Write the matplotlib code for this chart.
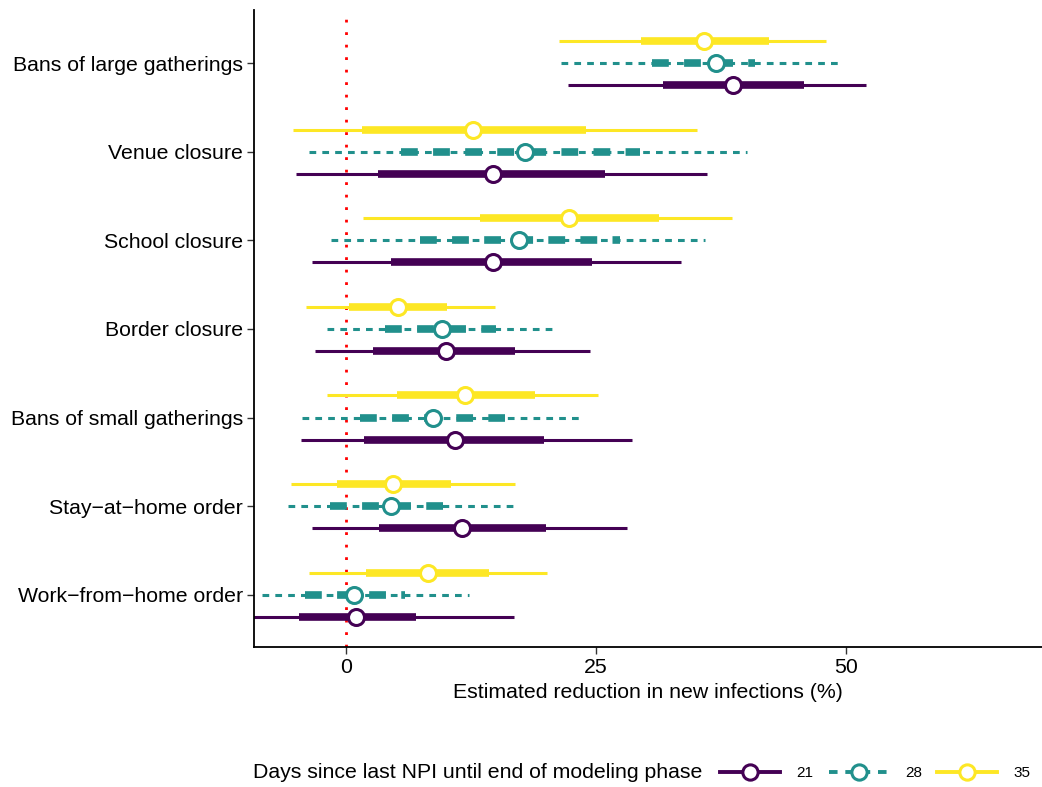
import numpy as np
import matplotlib.pyplot as plt
from matplotlib.lines import Line2D

plt.rcParams['font.family'] = ['Liberation Sans', 'DejaVu Sans']

# Categories, top to bottom
categories = [
    "Bans of large gatherings",
    "Venue closure",
    "School closure",
    "Border closure",
    "Bans of small gatherings",
    "Stay\u2212at\u2212home order",
    "Work\u2212from\u2212home order",
]
groups = ["21", "28", "35"]

# median estimates per group (21, 28, 35 days)
median_21 = [38.7, 14.7, 14.7, 10.0, 10.9, 11.6, 1.0]
median_28 = [37.0, 17.9, 17.3, 9.6, 8.7, 4.5, 0.8]
median_35 = [35.8, 12.7, 22.3, 5.2, 11.9, 4.7, 8.2]

# inner (thick) intervals
inner_lo_21 = [31.7, 3.2, 4.5, 2.7, 1.8, 3.3, -4.7]
inner_hi_21 = [45.8, 25.9, 24.6, 16.9, 19.8, 20.0, 7.0]
inner_lo_28 = [30.6, 5.5, 7.4, 3.9, 1.4, -1.6, -4.1]
inner_hi_28 = [40.9, 29.4, 27.4, 15.0, 15.9, 9.7, 5.9]
inner_lo_35 = [29.5, 1.6, 13.4, 0.3, 5.1, -0.9, 2.0]
inner_hi_35 = [42.3, 24.0, 31.3, 10.1, 18.9, 10.5, 14.3]

# outer (thin) intervals
outer_lo_21 = [22.2, -5.0, -3.4, -3.1, -4.5, -3.4, -10.5]
outer_hi_21 = [52.0, 36.1, 33.5, 24.4, 28.6, 28.1, 16.8]
outer_lo_28 = [21.5, -3.7, -1.5, -1.9, -4.4, -5.8, -8.4]
outer_hi_28 = [49.5, 40.1, 35.9, 20.7, 23.3, 16.9, 12.3]
outer_lo_35 = [21.3, -5.3, 1.7, -4.0, -1.9, -5.5, -3.7]
outer_hi_35 = [48.0, 35.1, 38.6, 14.9, 25.2, 16.9, 20.1]

colors = {"21": "#440154", "28": "#21908C", "35": "#FDE725"}
styles = {"21": "-", "28": (0, (2.2, 2.0)), "35": "-"}
offsets = {"21": -0.25, "28": 0.0, "35": 0.25}

series = {
    "21": (median_21, inner_lo_21, inner_hi_21, outer_lo_21, outer_hi_21),
    "28": (median_28, inner_lo_28, inner_hi_28, outer_lo_28, outer_hi_28),
    "35": (median_35, inner_lo_35, inner_hi_35, outer_lo_35, outer_hi_35),
}

fig = plt.figure(figsize=(10.42, 7.87), dpi=100)
ax = fig.add_axes([254 / 1042, 1 - 647 / 787, 1 - 254 / 1042, (647 - 10) / 787])

ypos = np.arange(len(categories))[::-1]

ax.axvline(0, color="red", linestyle=(0, (1, 3.5)), linewidth=2, zorder=1)

for z, g in enumerate(groups):
    med, ilo, ihi, olo, ohi = series[g]
    c = colors[g]
    for k, y in enumerate(ypos):
        yy = y + offsets[g]
        ax.plot([olo[k], ohi[k]], [yy, yy], color=c, lw=2.2, ls=styles[g],
                solid_capstyle="butt", dash_capstyle="butt", zorder=2 + z)
        ax.plot([ilo[k], ihi[k]], [yy, yy], color=c, lw=5.5, ls=styles[g],
                solid_capstyle="butt", dash_capstyle="butt", zorder=2 + z)
        ax.plot(med[k], yy, marker="o", ms=11.5, mfc="white", mec=c, mew=2.2,
                zorder=2 + z)

ax.set_xlim(-9.2, 69.6)
ax.set_ylim(-0.59, 6.6)
ax.set_yticks(ypos)
ax.set_yticklabels(categories, fontsize=15.3)
ax.set_xticks([0, 25, 50])
ax.set_xticklabels(["0", "25", "50"], fontsize=15.3)
ax.set_xlabel("Estimated reduction in new infections (%)", fontsize=15.3, labelpad=4)
ax.tick_params(length=5, width=1, color="#333333", pad=3)
for s in ["top", "right"]:
    ax.spines[s].set_visible(False)
for s in ["left", "bottom"]:
    ax.spines[s].set_linewidth(1.3)

fig.text(253 / 1042, 1 - 773 / 787, "Days since last NPI until end of modeling phase",
         fontsize=15.3, va="center", ha="left")

handles = [Line2D([0], [0], color=colors[g], lw=2.8, ls=styles[g], marker="o", ms=11,
                  mfc="white", mec=colors[g], mew=2.2) for g in groups]
fig.legend(handles, groups, loc="center left", bbox_to_anchor=(714 / 1042, 1 - 773 / 787),
           ncol=3, frameon=False, fontsize=11, handlelength=3.9, columnspacing=1.0,
           handletextpad=1.1, borderaxespad=0)

fig.savefig("out.png", dpi=100)
